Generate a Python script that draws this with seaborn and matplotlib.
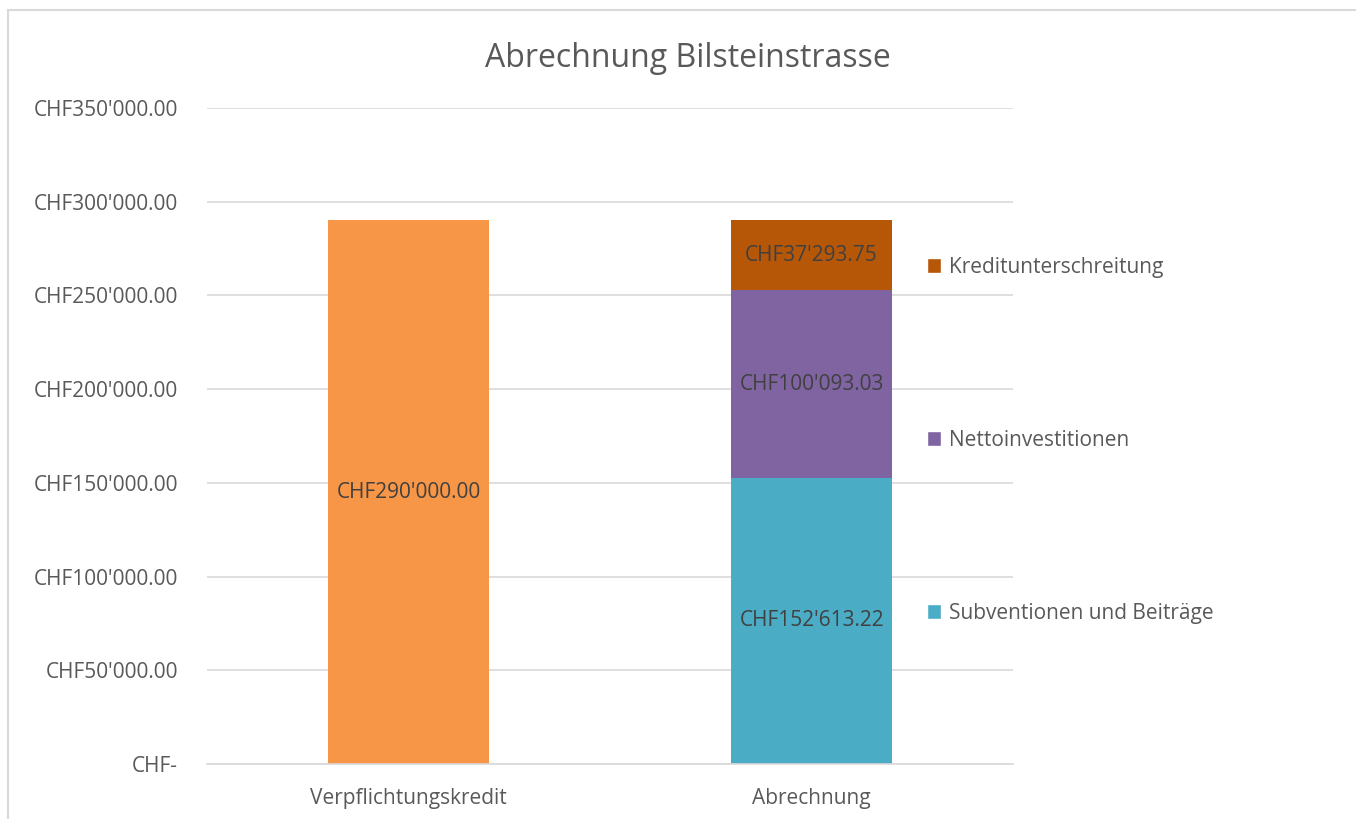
import matplotlib
matplotlib.use("Agg")
import matplotlib.pyplot as plt
from matplotlib.patches import Patch, Rectangle
import numpy as np
import pandas as pd
import seaborn as sns

categories = ["Verpflichtungskredit", "Abrechnung"]
kredit = [290000.00, 0.0]
subventionen = [0.0, 152613.22]
netto = [0.0, 100093.03]
unterschreitung = [0.0, 37293.75]
series_names = ["Subventionen und Beiträge", "Nettoinvestitionen", "Kreditunterschreitung"]
yticks = [0, 50000, 100000, 150000, 200000, 250000, 300000, 350000]

c_orange = "#F79646"
c_teal = "#4BACC6"
c_purple = "#8064A2"
c_brown = "#B65708"
c_text = "#595959"
c_grid = "#D9D9D9"


def chf(v):
    if v == 0:
        return "CHF-"
    return "CHF" + f"{v:,.2f}".replace(",", "'")


sns.set_theme(style="white")
plt.rcParams["font.family"] = ["Open Sans", "DejaVu Sans"]

fig = plt.figure(figsize=(13.56, 8.19), dpi=100)
ax = fig.add_axes([0.1527, 0.0672, 0.5944, 0.8010])

# cumulative heights, drawn from top down so lower layers overlay
layer1 = np.array(subventionen)
layer2 = layer1 + np.array(netto)
layer3 = layer2 + np.array(unterschreitung)
top = np.array(kredit) + layer3

bar_kw = dict(width=0.4, ax=ax, saturation=1, linewidth=0, edgecolor="none")
sns.barplot(data=pd.DataFrame({"cat": categories, "val": top}), x="cat", y="val",
            hue="cat", palette=[c_orange, c_brown], legend=False, **bar_kw)
sns.barplot(data=pd.DataFrame({"cat": categories, "val": layer2}), x="cat", y="val",
            color=c_purple, **bar_kw)
sns.barplot(data=pd.DataFrame({"cat": categories, "val": layer1}), x="cat", y="val",
            color=c_teal, **bar_kw)

# value labels in segment centres
label_kw = dict(ha="center", va="center", fontsize=15, color="#404040")
ax.text(0, kredit[0] / 2, chf(kredit[0]), **label_kw)
bottoms = [0.0, layer1[1], layer2[1]]
for b, v in zip(bottoms, [subventionen[1], netto[1], unterschreitung[1]]):
    ax.text(1, b + v / 2, chf(v), **label_kw)

ax.set_xlim(-0.5, 1.5)
ax.set_ylim(0, 350000)
ax.set_yticks(yticks)
ax.set_yticklabels([chf(v) for v in yticks])
ax.grid(axis="y", color=c_grid, linewidth=1.2)
ax.set_axisbelow(True)
for s in ["top", "right", "left"]:
    ax.spines[s].set_visible(False)
ax.spines["bottom"].set_color(c_grid)
ax.spines["bottom"].set_linewidth(1.2)
ax.tick_params(axis="y", length=0, pad=21, labelsize=15, labelcolor=c_text)
ax.tick_params(axis="x", length=0, pad=17, labelsize=15, labelcolor=c_text)
ax.set_xlabel("")
ax.set_ylabel("")

fig.text(0.507, 0.929, "Abrechnung Bilsteinstrasse", ha="center", va="center",
         fontsize=23, color=c_text)

handles = [Patch(facecolor=c_brown, label=series_names[2]),
           Patch(facecolor=c_purple, label=series_names[1]),
           Patch(facecolor=c_teal, label=series_names[0])]
ax.legend(handles=handles, loc="upper left", bbox_to_anchor=(0.893, 0.773),
          frameon=False, fontsize=15, labelcolor=c_text, labelspacing=7.3,
          handlelength=0.7, handleheight=0.7, handletextpad=0.35, borderaxespad=0,
          borderpad=0)

fig.patches.append(Rectangle((8 / 1356, -0.1), 1.2, 1 - 10 / 819 + 0.1,
                             transform=fig.transFigure, fill=False,
                             edgecolor=c_grid, linewidth=1.5))

fig.savefig("out.png", dpi=100)
